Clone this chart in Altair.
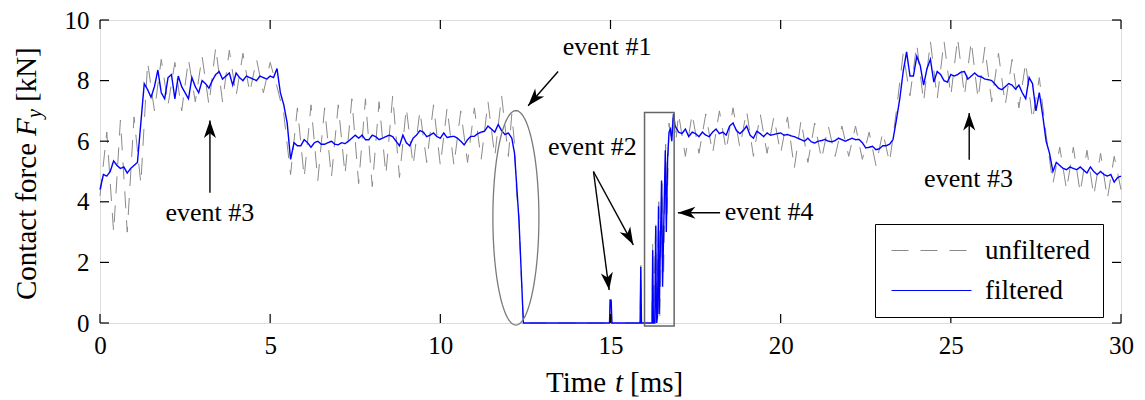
import math
import numpy as np
import pandas as pd
import altair as alt

# ---------------- data ----------------
# filtered signal, 0.0 .. 12.1 ms every 0.1 ms
filtered_a = [
    4.4, 4.9, 4.85, 5.0, 5.35, 5.2, 5.1, 5.15, 4.95, 5.1,
    5.2, 5.3, 6.6, 7.9, 7.7, 7.45, 7.8, 8.35, 7.6, 7.4,
    8.1, 8.2, 7.4, 8.15, 7.8, 7.6, 7.4, 8.1, 7.8, 7.6,
    8.0, 7.9, 7.75, 8.0, 8.2, 8.3, 8.05, 8.15, 8.25, 7.85,
    8.25, 8.1, 8.0, 8.15, 8.1, 8.05, 8.0, 8.15, 8.1, 8.05,
    8.15, 8.1, 8.4, 7.6, 7.2, 6.6, 5.4, 5.95, 5.85, 5.85,
    6.05, 5.95, 5.8, 5.95, 6.0, 5.9, 5.9, 5.95, 6.0, 5.9,
    5.88, 5.95, 5.92, 6.0, 6.1, 6.2, 6.1, 6.2, 6.05, 6.05,
    6.2, 6.15, 6.05, 6.1, 6.15, 6.2, 6.15, 6.0, 5.85, 6.2,
    5.95, 5.85, 6.1, 6.2, 6.35, 6.3, 6.15, 6.2, 6.27, 6.15,
    6.1, 6.27, 6.12, 6.15, 6.16, 6.1, 6.0, 5.88, 6.05, 6.16,
    6.16, 6.25, 6.3, 6.33, 6.5, 6.4, 6.3, 6.55, 6.35, 6.22,
    6.27, 6.1,
]
# filtered signal around the loss of contact (events #1, #2, #4)
filtered_event_t = [12.18, 12.24, 12.31, 12.38, 12.44, 14.97, 14.99, 15.02, 15.04,
                    15.87, 15.89, 15.91, 16.22, 16.24, 16.26, 16.30, 16.33, 16.35,
                    16.38, 16.41, 16.43, 16.46, 16.50, 16.53, 16.57, 16.61, 16.64,
                    16.68, 16.72, 16.76, 16.80, 16.85, 16.90, 16.95]
filtered_event_v = [5.6, 4.6, 3.4, 1.6, 0.0, 0.0, 0.75, 0.75, 0.0,
                    0.0, 1.85, 0.0, 0.0, 2.4, 0.0, 0.0, 3.2, 0.0,
                    0.2, 3.85, 0.3, 2.2, 4.7, 1.2, 3.5, 5.7, 3.0,
                    5.5, 6.3, 6.4, 6.0, 6.9, 6.5, 6.4]
# filtered signal, 17.0 .. 30.0 ms every 0.1 ms
filtered_b = [
    6.3, 6.25, 6.4, 6.15, 6.3, 6.25, 6.15, 6.3, 6.2, 6.15,
    6.3, 6.4, 6.25, 6.3, 6.2, 6.5, 6.6, 6.35, 6.25, 6.35,
    6.5, 6.2, 6.1, 6.33, 6.25, 6.15, 6.27, 6.2, 6.22, 6.25,
    6.27, 6.2, 6.22, 6.18, 6.15, 6.1, 6.05, 6.0, 6.1, 5.98,
    5.94, 6.0, 6.02, 6.06, 6.0, 5.98, 6.02, 6.1, 6.05, 6.0,
    6.05, 6.1, 6.05, 6.06, 5.95, 5.78, 5.8, 5.83, 5.72, 5.75,
    5.85, 5.85, 5.9, 6.05, 6.7, 7.4, 8.3, 8.95, 8.15, 8.15,
    8.8, 8.5, 7.85, 8.4, 8.7, 7.95, 8.3, 8.2, 8.0, 7.95,
    8.2, 8.15, 8.2, 8.28, 8.3, 8.05, 8.15, 8.25, 8.15, 8.12,
    8.05, 8.03, 8.0, 7.88, 7.75, 7.7, 7.8, 7.9, 7.85, 7.72,
    7.85, 7.6, 7.4, 8.1, 7.9, 7.0, 7.6, 6.85, 6.0, 5.6,
    5.0, 5.3, 5.2, 5.1, 5.06, 5.15, 5.1, 5.06, 5.15, 5.05,
    4.95, 5.15, 5.0, 4.9, 5.0, 4.9, 4.85, 4.9, 4.65, 4.8,
    4.85,
]
# unfiltered signal, 0.0 .. 12.0 ms every 0.2 ms
unfiltered_a = [
    4.2, 6.3, 3.0, 6.7, 3.0, 6.8, 4.6, 8.6, 7.0, 8.7,
    7.2, 8.6, 7.0, 8.7, 7.3, 8.8, 7.2, 9.1, 7.3, 9.0,
    7.5, 8.9, 7.6, 8.7, 7.6, 8.6, 7.8, 6.9, 4.9, 7.1,
    4.8, 7.2, 4.7, 7.1, 4.8, 7.2, 4.9, 7.4, 4.6, 7.4,
    4.5, 7.3, 4.9, 7.5, 4.8, 7.1, 5.2, 7.0, 5.3, 7.2,
    5.2, 7.1, 5.2, 7.0, 5.3, 7.1, 5.4, 7.3, 5.5, 7.5,
    5.5,
]
unfiltered_event_t = [12.1, 12.18, 12.24, 12.31, 12.38, 12.44, 14.97, 14.99, 15.02, 15.04,
                      15.87, 15.89, 15.91, 16.22, 16.24, 16.26, 16.33, 16.36, 16.42,
                      16.45, 16.52, 16.56, 16.62, 16.66, 16.72, 16.78, 16.85, 16.92]
unfiltered_event_v = [6.9, 5.9, 4.3, 3.5, 1.5, 0.0, 0.0, 0.85, 0.8, 0.0,
                      0.0, 1.9, 0.0, 0.0, 2.6, 0.0, 3.4, 0.0, 4.2,
                      0.2, 4.6, 1.5, 5.9, 3.5, 6.6, 6.0, 7.0, 6.0]
# unfiltered signal, 17.0 .. 30.0 ms every 0.2 ms
unfiltered_b = [
    6.9, 5.5, 6.9, 5.6, 6.9, 5.6, 7.0, 5.7, 7.1, 5.8,
    7.0, 5.5, 6.9, 5.6, 6.8, 5.6, 6.8, 5.1, 6.7, 5.3,
    6.6, 5.4, 6.5, 5.5, 6.5, 5.5, 6.5, 5.4, 6.3, 5.2,
    6.3, 5.3, 7.0, 8.9, 7.5, 9.2, 7.3, 9.3, 7.4, 9.3,
    7.5, 9.4, 7.5, 9.3, 7.4, 9.1, 7.3, 8.9, 7.2, 8.7,
    7.1, 8.6, 6.7, 8.1, 6.2, 4.6, 5.8, 4.4, 5.8, 4.3,
    5.7, 4.2, 5.6, 4.1, 5.5, 4.4,
]

x_ticks = [0, 5, 10, 15, 20, 25, 30]
y_ticks = [0, 2, 4, 6, 8, 10]

ann_labels = ["event #1", "event #2", "event #3", "event #3", "event #4"]
ann_t = [14.9, 14.47, 3.23, 25.52, 19.66]
ann_v = [9.12, 5.82, 3.64, 4.75, 3.67]

arrow_t0 = [13.46, 14.50, 14.50, 18.22, 3.23, 25.54]
arrow_v0 = [8.30, 5.00, 5.00, 3.64, 4.30, 5.39]
arrow_t1 = [12.58, 14.96, 15.67, 16.98, 3.23, 25.54]
arrow_v1 = [7.17, 1.09, 2.58, 3.64, 6.68, 6.93]

ellipse_center = (12.22, 3.47)
ellipse_axes = (0.676, 3.54)
box_t = (16.0, 16.87)
box_v = (-0.1, 6.95)

# ---------------- layout ----------------
W, H = 1021, 303
FONT = "Liberation Serif, Times New Roman, serif"
px_t = W / 30.0
px_v = H / 10.0


def series_rows(name, a, a_step, ev_t, ev_v, b, b_step):
    rows = []
    for i, v in enumerate(a):
        rows.append((round(i * a_step, 2), v, name))
    for t, v in zip(ev_t, ev_v):
        rows.append((t, v, name))
    for i, v in enumerate(b):
        rows.append((round(17.0 + i * b_step, 2), v, name))
    return rows


rows = series_rows("unfiltered", unfiltered_a, 0.2, unfiltered_event_t, unfiltered_event_v,
                   unfiltered_b, 0.2)
rows += series_rows("filtered", filtered_a, 0.1, filtered_event_t, filtered_event_v,
                    filtered_b, 0.1)
df = pd.DataFrame(rows, columns=["t", "v", "series"])

xs = alt.Scale(domain=[0, 30], nice=False, zero=False)
ys = alt.Scale(domain=[0, 10], nice=False, zero=False)
xaxis = alt.Axis(values=x_ticks, tickSize=0, domain=False, grid=False, labelFont=FONT,
                 labelFontSize=25, labelColor="black", labelPadding=10, labelFlush=False,
                 labelOverlap=False, title=None)
yaxis = alt.Axis(values=y_ticks, tickSize=0, domain=False, grid=False, labelFont=FONT,
                 labelFontSize=25, labelColor="black", labelPadding=11, labelFlush=False,
                 labelOverlap=False, title=None)
X = lambda f: alt.X(f, scale=xs, axis=xaxis)
Y = lambda f: alt.Y(f, scale=ys, axis=yaxis)

dom = ["unfiltered", "filtered"]
leg = dict(title=None, orient="none", legendX=775, legendY=204,
           strokeColor="black", fillColor="white", padding=13,
           symbolType="M -1 0 L 7 0", symbolSize=400,
           symbolStrokeWidth=1.2, labelOffset=70,
           labelFont=FONT, labelFontSize=27, labelColor="black",
           rowPadding=12, labelLimit=0, cornerRadius=0)
color = alt.Color("series:N", scale=alt.Scale(domain=dom, range=["#8a8a8a", "#0000ff"]),
                  legend=alt.Legend(**leg))
dash = alt.StrokeDash("series:N", scale=alt.Scale(domain=dom, range=[[17, 12], [1, 0]]),
                      legend=alt.Legend(**leg))

unf = alt.Chart(df).transform_filter(alt.datum.series == "unfiltered").mark_line(
    strokeWidth=1).encode(x=X("t:Q"), y=Y("v:Q"), color=color, strokeDash=dash, order="t:Q")
fil = alt.Chart(df).transform_filter(alt.datum.series == "filtered").mark_line(
    strokeWidth=1.4).encode(x=X("t:Q"), y=Y("v:Q"), color=color, strokeDash=dash, order="t:Q")

# ellipse and box annotations
theta = np.linspace(0, 2 * np.pi, 121)
ell = pd.DataFrame({"t": ellipse_center[0] + ellipse_axes[0] * np.cos(theta),
                    "v": ellipse_center[1] + ellipse_axes[1] * np.sin(theta),
                    "i": np.arange(len(theta))})
ellipse = alt.Chart(ell).mark_line(color="#7a7a7a", strokeWidth=1.3, clip=False).encode(
    x=X("t:Q"), y=Y("v:Q"), order="i:Q")
box = alt.Chart(pd.DataFrame({"t": [box_t[0]], "t2": [box_t[1]], "v": [box_v[0]], "v2": [box_v[1]]})
                ).mark_rect(fillOpacity=0, stroke="#666666", strokeWidth=1.5, clip=False).encode(
    x=X("t:Q"), x2="t2:Q", y=Y("v:Q"), y2="v2:Q")

# arrows
ang = []
for t0, v0, t1, v1 in zip(arrow_t0, arrow_v0, arrow_t1, arrow_v1):
    dx = (t1 - t0) * px_t
    dy = -(v1 - v0) * px_v
    ang.append(math.degrees(math.atan2(dx, -dy)) % 360)
arr = pd.DataFrame({"t0": arrow_t0, "v0": arrow_v0, "t1": arrow_t1, "v1": arrow_v1, "ang": ang})
shafts = alt.Chart(arr).mark_rule(color="black", strokeWidth=1.4).encode(
    x=X("t0:Q"), y=Y("v0:Q"), x2="t1:Q", y2="v1:Q")
heads = alt.Chart(arr).mark_point(shape="M 0 0 L 0.55 1.6 L 0 1.15 L -0.55 1.6 Z", filled=True,
                                   color="black", opacity=1, size=480).encode(
    x=X("t1:Q"), y=Y("v1:Q"), angle=alt.Angle("ang:Q", scale=None))

ann = pd.DataFrame({"label": ann_labels, "t": ann_t, "v": ann_v})
texts = alt.Chart(ann).mark_text(font=FONT, fontSize=26, baseline="middle", align="center",
                                 color="black").encode(x=X("t:Q"), y=Y("v:Q"), text="label:N")

# inward ticks on all four sides
xt = pd.DataFrame({"t": x_ticks})
yt = pd.DataFrame({"v": y_ticks})
tb = alt.Chart(xt).mark_rule(color="black", strokeWidth=1.2).encode(
    x=X("t:Q"), y=alt.value(H), y2=alt.value(H - 9))
tt = alt.Chart(xt).mark_rule(color="black", strokeWidth=1.2).encode(
    x=X("t:Q"), y=alt.value(0), y2=alt.value(9))
tl = alt.Chart(yt).mark_rule(color="black", strokeWidth=1.2).encode(
    y=Y("v:Q"), x=alt.value(0), x2=alt.value(9))
tr = alt.Chart(yt).mark_rule(color="black", strokeWidth=1.2).encode(
    y=Y("v:Q"), x=alt.value(W), x2=alt.value(W - 9))

# axis titles with italic symbols
one = pd.DataFrame({"a": [0]})


def txt(s, x, y, size=29, style="normal", angle=0, align="left", baseline="alphabetic"):
    return alt.Chart(one).mark_text(text=s, font=FONT, fontSize=size, fontStyle=style,
                                    angle=angle, align=align, baseline=baseline,
                                    color="black").encode(x=alt.value(x), y=alt.value(y))


xtitle = [txt("Time", 446, 372), txt("t", 515, 372, style="italic"), txt("[ms]", 530, 372)]
ytitle = [txt("Contact force", -73, 280, angle=270, baseline="middle"),
          txt("F", -73, 116, style="italic", angle=270, baseline="middle"),
          txt("y", -65, 98, size=20, style="italic", angle=270, baseline="middle"),
          txt("[kN]", -73, 82, angle=270, baseline="middle")]

chart = alt.layer(unf, fil, ellipse, box, shafts, heads, texts, tb, tt, tl, tr,
                  *xtitle, *ytitle).properties(
    width=W, height=H,
    padding={"left": 100, "top": 20, "right": 24, "bottom": 77},
    autosize=alt.AutoSizeParams(type="none"),
).configure_view(stroke="black", strokeWidth=1.4).configure(background="white")

chart.save("out.html", embed_options={"renderer": "svg", "actions": False})
